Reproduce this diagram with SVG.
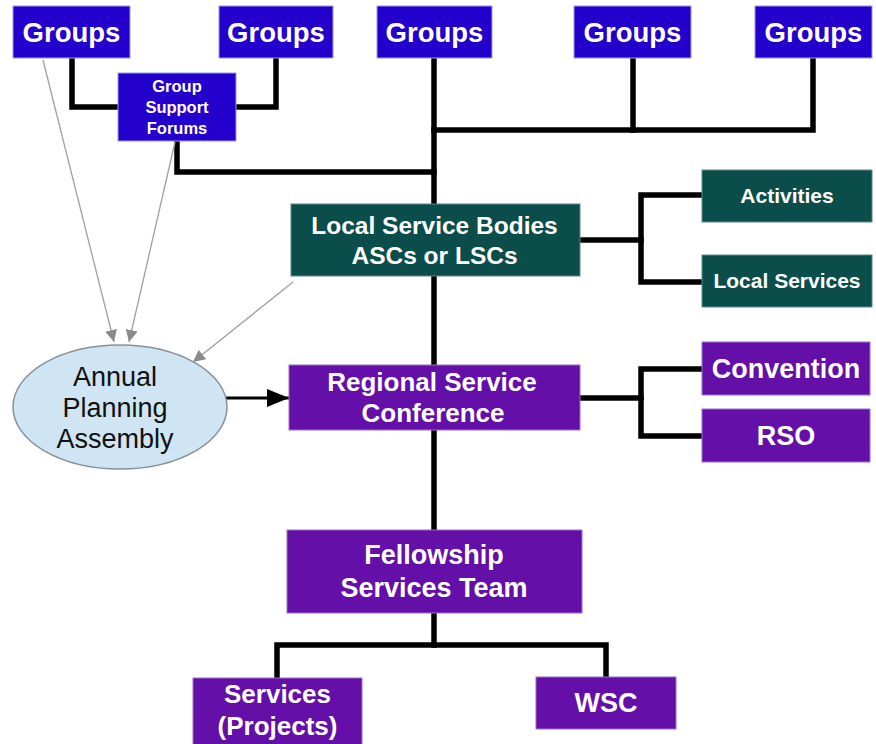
<svg xmlns="http://www.w3.org/2000/svg" width="876" height="744" viewBox="0 0 876 744">
<defs>
<style>
.blue{fill:#2400cc;stroke:#9a9ae0;stroke-width:1}
.teal{fill:#0b4d4a;stroke:#5a8a88;stroke-width:1}
.purple{fill:#630fa8;stroke:#9a70c8;stroke-width:1}
.t{font-family:"Liberation Sans",Arial,sans-serif;font-weight:bold;fill:#ffffff;text-anchor:middle}
.k{fill:none;stroke:#000;stroke-width:5.5;stroke-linejoin:miter;stroke-linecap:square}
.g{fill:none;stroke:#a0a0a0;stroke-width:1.3}
</style>
<marker id="ga" viewBox="0 0 10 10" refX="10" refY="5" markerWidth="12" markerHeight="12" markerUnits="userSpaceOnUse" orient="auto"><path d="M0,0L10,5L0,10z" fill="#8a8a8a"/></marker>
<marker id="ba" viewBox="0 0 10 10" refX="10" refY="5" markerWidth="22" markerHeight="18" markerUnits="userSpaceOnUse" orient="auto" preserveAspectRatio="none"><path d="M0,0L10,5L0,10z" fill="#000"/></marker>
</defs>
<rect width="876" height="744" fill="#ffffff"/>
<g id="connectors">
<path class="k" d="M72,58V107H118"/>
<path class="k" d="M276,58V107H236"/>
<path class="k" d="M177,141V172H434"/>
<path class="k" d="M434,58V204"/>
<path class="k" d="M434,130H813V58"/>
<path class="k" d="M633,58V130"/>
<path class="k" d="M434,276V365"/>
<path class="k" d="M434,430V530"/>
<path class="k" d="M580,240H641"/>
<path class="k" d="M702,195H641V282H702"/>
<path class="k" d="M580,398H641"/>
<path class="k" d="M702,369H641V436H702"/>
<path class="k" d="M434,613V645"/>
<path class="k" d="M277,678V645H606V677"/>
<line class="g" x1="43" y1="60" x2="114" y2="342" marker-end="url(#ga)"/>
<line class="g" x1="175" y1="142" x2="129" y2="342" marker-end="url(#ga)"/>
<line class="g" x1="293" y1="282" x2="193" y2="362" marker-end="url(#ga)"/>
<line x1="225" y1="398" x2="289" y2="398" stroke="#000" stroke-width="3" marker-end="url(#ba)"/>
</g>
<g id="groups1"><rect class="blue" x="13" y="6" width="117" height="52"/><text class="t" x="71.5" y="42" font-size="27.5">Groups</text></g>
<g id="groups2"><rect class="blue" x="219" y="6" width="114" height="52"/><text class="t" x="276" y="42" font-size="27.5">Groups</text></g>
<g id="groups3"><rect class="blue" x="377" y="6" width="115" height="52"/><text class="t" x="434.5" y="42" font-size="27.5">Groups</text></g>
<g id="groups4"><rect class="blue" x="574" y="6" width="117" height="52"/><text class="t" x="632.5" y="42" font-size="27.5">Groups</text></g>
<g id="groups5"><rect class="blue" x="755" y="6" width="117" height="52"/><text class="t" x="813.5" y="42" font-size="27.5">Groups</text></g>
<g id="gsf"><rect class="blue" x="118" y="73" width="118" height="68"/><text class="t" font-size="16.5"><tspan x="177" y="92">Group</tspan><tspan x="177" y="113">Support</tspan><tspan x="177" y="134">Forums</tspan></text></g>
<g id="lsb"><rect class="teal" x="291" y="204" width="289" height="72"/><text class="t" font-size="24.5"><tspan x="434.5" y="234">Local Service Bodies</tspan><tspan x="434.5" y="264">ASCs or LSCs</tspan></text></g>
<g id="activities"><rect class="teal" x="702" y="170" width="170" height="52"/><text class="t" x="787" y="203" font-size="21">Activities</text></g>
<g id="localservices"><rect class="teal" x="702" y="255" width="170" height="52"/><text class="t" x="787" y="288" font-size="21">Local Services</text></g>
<g id="rsc"><rect class="purple" x="289" y="365" width="291" height="65"/><text class="t" font-size="26"><tspan x="432" y="391">Regional Service</tspan><tspan x="433" y="422">Conference</tspan></text></g>
<g id="convention"><rect class="purple" x="702" y="342" width="168" height="53"/><text class="t" x="786" y="378" font-size="27">Convention</text></g>
<g id="rso"><rect class="purple" x="702" y="409" width="168" height="53"/><text class="t" x="786" y="445" font-size="27">RSO</text></g>
<g id="apa"><ellipse cx="120" cy="407" rx="107" ry="62" fill="#cfe5f3" stroke="#8a9099" stroke-width="1.5"/><text font-family="'Liberation Sans',Arial,sans-serif" font-size="27" fill="#111" text-anchor="middle"><tspan x="115" y="386">Annual</tspan><tspan x="115" y="417">Planning</tspan><tspan x="115" y="448">Assembly</tspan></text></g>
<g id="fst"><rect class="purple" x="287" y="530" width="295" height="83"/><text class="t" font-size="27"><tspan x="434" y="564">Fellowship</tspan><tspan x="434" y="597">Services Team</tspan></text></g>
<g id="services"><rect class="purple" x="193" y="678" width="169" height="70"/><text class="t" font-size="26"><tspan x="277.5" y="703">Services</tspan><tspan x="277.5" y="735">(Projects)</tspan></text></g>
<g id="wsc"><rect class="purple" x="536" y="677" width="140" height="52"/><text class="t" x="606" y="712" font-size="27">WSC</text></g>
</svg>
